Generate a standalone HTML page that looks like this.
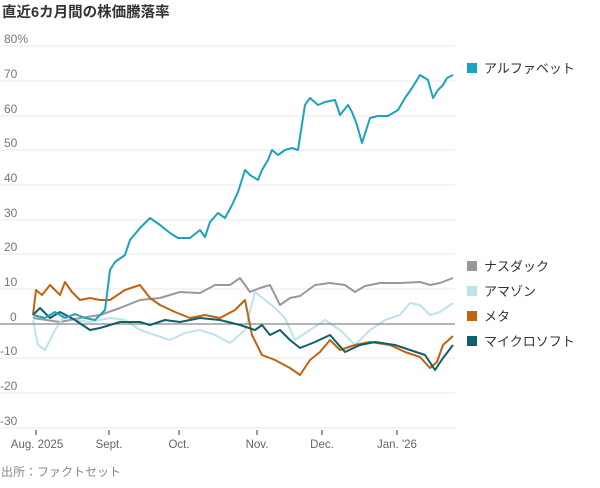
<!DOCTYPE html>
<html><head><meta charset="utf-8"><style>
body{margin:0;background:#fff;font-family:"Liberation Sans","Noto Sans CJK JP",sans-serif}
text{font-family:"Liberation Sans","Noto Sans CJK JP",sans-serif}
</style></head><body>
<svg width="600" height="483" viewBox="0 0 600 483">
<text x="2" y="17" font-size="14.5" font-weight="bold" fill="#333">直近6カ月間の株価騰落率</text>
<g stroke="#eee" stroke-width="1.2">
<line x1="0" y1="46" x2="455" y2="46"/><line x1="0" y1="81" x2="455" y2="81"/><line x1="0" y1="116" x2="455" y2="116"/><line x1="0" y1="150" x2="455" y2="150"/><line x1="0" y1="185" x2="455" y2="185"/><line x1="0" y1="220" x2="455" y2="220"/><line x1="0" y1="254" x2="455" y2="254"/><line x1="0" y1="289" x2="455" y2="289"/><line x1="0" y1="358" x2="455" y2="358"/><line x1="0" y1="393" x2="455" y2="393"/><line x1="0" y1="428" x2="455" y2="428"/>
</g>
<g font-size="12" fill="#777">
<text x="4" y="43">80%</text><text x="4" y="78">70</text><text x="4" y="113">60</text><text x="4" y="147">50</text><text x="4" y="182">40</text><text x="4" y="217">30</text><text x="4" y="251">20</text><text x="4" y="286">10</text><text x="10" y="321">0</text><text x="0" y="355">-10</text><text x="0" y="390">-20</text><text x="0" y="425">-30</text>
</g>
<g stroke="#333" stroke-width="1"><line x1="36" y1="430" x2="36" y2="435"/><line x1="109" y1="430" x2="109" y2="435"/><line x1="179" y1="430" x2="179" y2="435"/><line x1="257" y1="430" x2="257" y2="435"/><line x1="322" y1="430" x2="322" y2="435"/><line x1="397" y1="430" x2="397" y2="435"/></g>
<g font-size="11.5" fill="#666" text-anchor="middle"><text x="37" y="448">Aug. 2025</text><text x="109" y="448">Sept.</text><text x="179" y="448">Oct.</text><text x="257" y="448">Nov.</text><text x="322" y="448">Dec.</text><text x="397" y="448">Jan. '26</text></g>
<text x="1" y="476" font-size="12" fill="#888">出所：ファクトセット</text>
<g fill="none" stroke-width="2" stroke-linejoin="round">
<polyline stroke="#999" points="33,318 60,322 80,318 100,315 120,308 140,300 160,298 180,292 200,293 215,285 230,285 240,278 250,292 260,288 270,285 280,305 290,298 300,296 315,285 330,283 345,285 355,292 365,286 380,283 400,283 420,282 430,285 440,283 453,278"/>
<polyline stroke="#bde3ec" points="33,320 38,345 45,350 55,330 65,315 75,320 90,322 110,318 125,320 140,330 155,335 170,340 185,333 200,330 215,335 230,343 245,330 255,292 265,300 275,308 285,318 295,340 310,330 325,320 340,330 355,345 370,330 385,320 400,315 410,303 420,305 430,315 440,312 453,303"/>
<line x1="0" y1="324" x2="455" y2="324" stroke="#888" stroke-width="1.2"/>
<polyline stroke="#c0620e" points="33,315 36,290 42,295 50,285 60,295 65,282 72,292 80,300 90,298 100,300 110,300 125,290 140,285 150,298 160,305 175,312 190,318 205,315 220,318 235,310 245,300 252,335 262,355 275,360 290,368 300,375 310,360 320,352 330,340 340,350 355,345 370,342 390,345 405,352 420,357 430,368 437,362 443,345 453,336"/>
<polyline stroke="#0d5f6b" points="33,315 40,308 50,318 60,312 75,320 90,330 100,328 120,322 140,322 150,325 165,320 180,322 200,318 220,320 240,325 255,330 262,325 270,335 280,330 290,340 300,348 315,342 330,335 345,352 360,345 375,342 395,345 410,350 425,355 435,370 443,358 453,345"/>
<polyline stroke="#1ba3bb" points="33,315 45,318 55,312 65,318 75,314 85,318 95,320 105,310 110,270 115,262 125,255 130,240 140,228 150,218 160,225 170,233 178,238 190,238 200,230 205,237 210,222 218,213 225,218 232,205 238,192 245,170 250,175 258,180 262,170 268,160 272,150 278,155 285,150 292,148 298,150 305,105 310,98 318,105 325,102 335,100 340,115 348,105 352,112 357,125 362,143 370,118 378,116 388,116 398,110 405,98 412,88 420,75 428,80 433,98 438,90 443,85 447,78 453,75"/>
</g>
<g font-size="13" fill="#333">
<rect x="467" y="63" width="10" height="10" fill="#1ba3bb"/><text x="484" y="73">アルファベット</text>
<rect x="467" y="261" width="10" height="10" fill="#999"/><text x="484" y="271">ナスダック</text>
<rect x="467" y="286" width="10" height="10" fill="#bde3ec"/><text x="484" y="296">アマゾン</text>
<rect x="467" y="311" width="10" height="10" fill="#c0620e"/><text x="484" y="321">メタ</text>
<rect x="467" y="336" width="10" height="10" fill="#0d5f6b"/><text x="484" y="346">マイクロソフト</text>
</g>
</svg>
</body></html>
